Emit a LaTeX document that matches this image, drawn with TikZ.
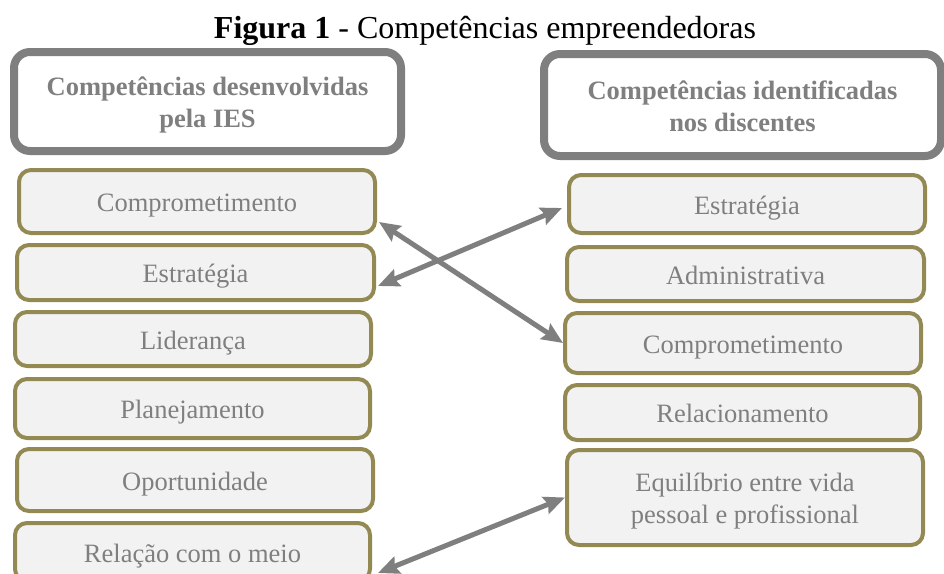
\documentclass[tikz,border=0pt]{standalone}
\usepackage{fontspec}
\setmainfont{Liberation Serif}
\usetikzlibrary{calc,arrows.meta}
\definecolor{olivebd}{HTML}{938953}
\definecolor{boxfill}{HTML}{F2F2F2}
\definecolor{txtgray}{HTML}{7F7F7F}
\begin{document}
\begin{tikzpicture}[x=1pt,y=-1pt,
  headbox/.style={draw=txtgray, line width=8pt, fill=white, rounded corners=16pt,
    text=txtgray, font=\fontsize{26.5}{31.5}\selectfont\bfseries, align=center, inner sep=0pt,
    text depth=6pt},
  itembox/.style={draw=olivebd, line width=4pt, fill=boxfill, rounded corners=12pt,
    text=txtgray, font=\fontsize{26.5}{31.5}\selectfont, align=center, inner sep=0pt,
    text height=23.5pt, text depth=3pt},
  link/.style={draw=txtgray, line width=5pt,
    {Stealth[length=21pt,width=18pt,inset=3pt]}-{Stealth[length=21pt,width=18pt,inset=3pt]}}
]
\clip (0,0) rectangle (944,573);
\fill[white] (0,0) rectangle (944,573);

\node[font=\fontsize{32}{38}\selectfont, anchor=base] (title) at (485,38)
  {\textbf{Figura 1} - Competências empreendedoras};

% headers
\node[headbox, text height=57pt, minimum width=387pt, minimum height=99pt] (lh) at (207.5,101.5)
  {Competências desenvolvidas\\pela IES};
\node[headbox, text height=58pt, minimum width=397pt, minimum height=102pt] (rh) at (742.5,105)
  {Competências identificadas\\nos discentes};

% left column
\node[itembox, minimum width=356pt, minimum height=63pt] (lc) at (197,201.5) {Comprometimento};
\node[itembox, minimum width=357pt, minimum height=55pt] (le) at (195.5,272.5) {Estratégia};
\node[itembox, minimum width=356pt, minimum height=54pt] (ll) at (193,339) {Liderança};
\node[itembox, minimum width=355pt, minimum height=59pt] (lp) at (192.5,408.5) {Planejamento};
\node[itembox, minimum width=356pt, minimum height=62pt] (lo) at (195,480) {Oportunidade};
\node[itembox, minimum width=355pt, minimum height=58pt] (lr) at (192.5,552) {Relação com o meio};

% right column
\node[itembox, minimum width=356pt, minimum height=58pt] (re) at (747,204) {Estratégia};
\node[itembox, minimum width=357pt, minimum height=54pt] (ra) at (745.5,274) {Administrativa};
\node[itembox, minimum width=356pt, minimum height=60pt] (rc) at (743,343) {Comprometimento};
\node[itembox, minimum width=355pt, minimum height=55pt] (rr) at (742.5,412.5) {Relacionamento};
\node[itembox, text height=57.5pt, text depth=6pt, minimum width=356pt, minimum height=95pt] (rq) at (745,497.5)
  {Equilíbrio entre vida\\pessoal e profissional};

% connectors
\draw[link] ($(lc.east)+(2,20.5)$) -- (rc.west);
\draw[link] ($(le.east)+(2,13.5)$) -- ($(re.west)+(-5,4)$);
\draw[link] ($(lr.east)+(6,21)$) -- (rq.west);
\end{tikzpicture}
\end{document}
